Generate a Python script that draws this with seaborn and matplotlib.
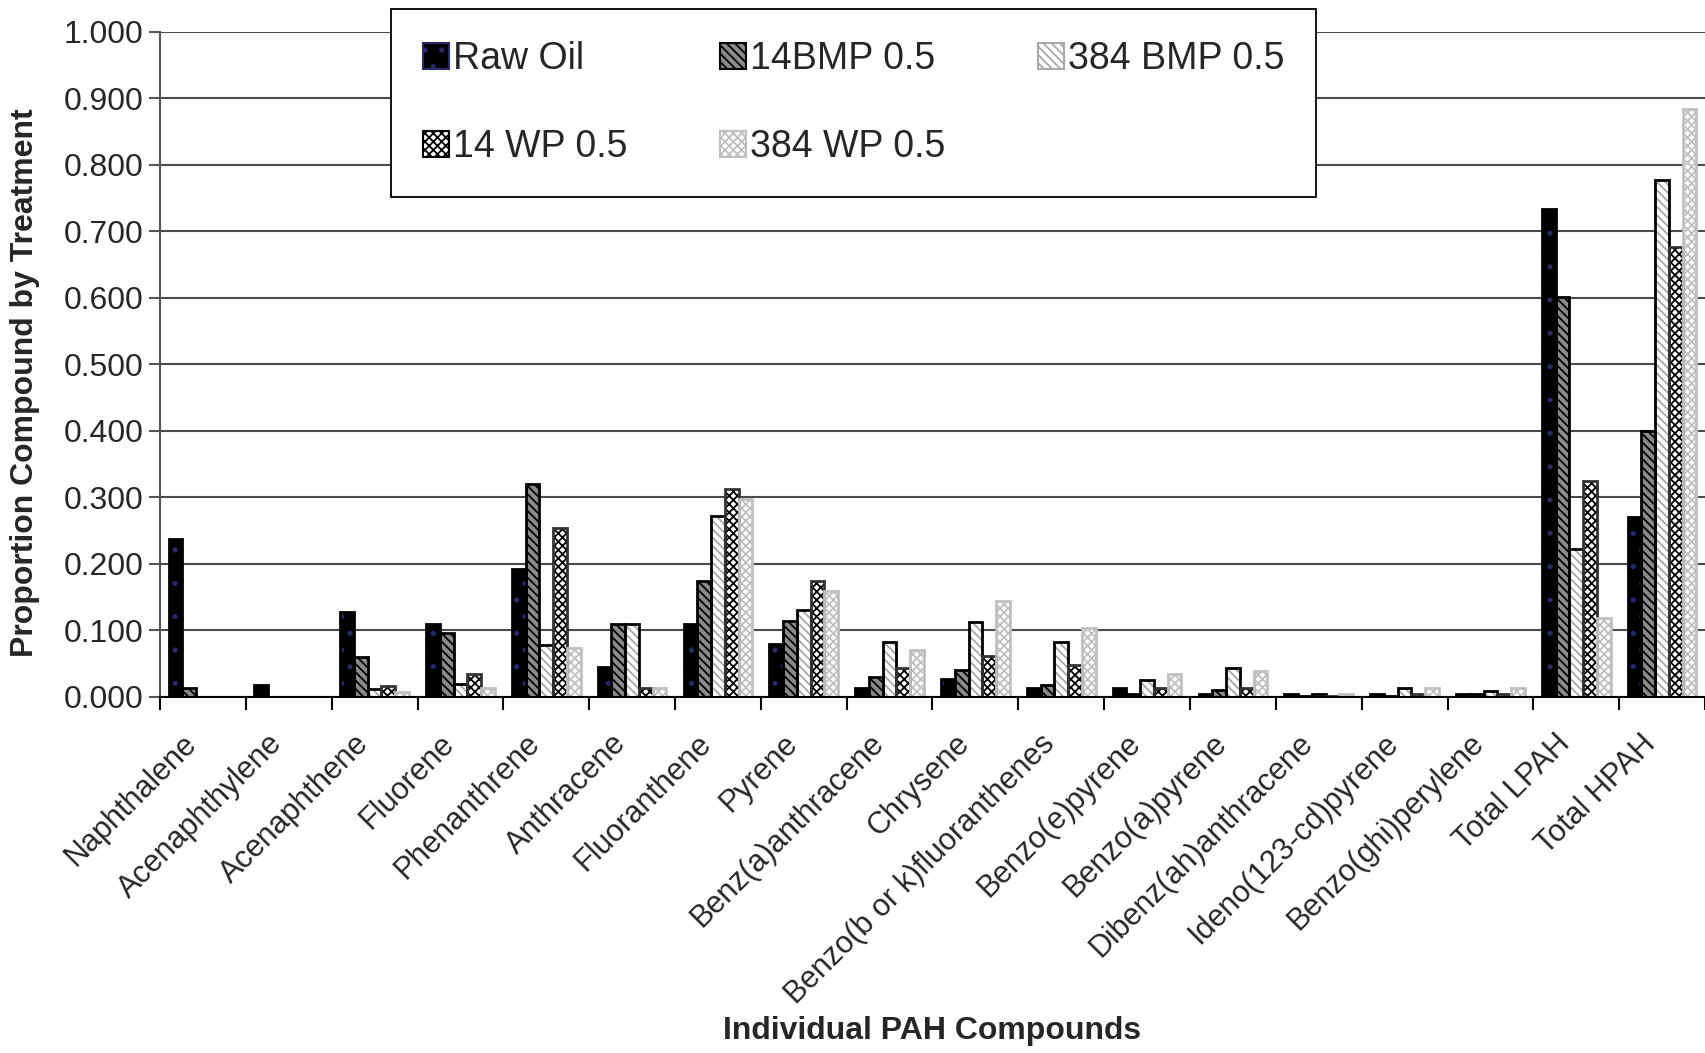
import numpy as np
import pandas as pd
import matplotlib
matplotlib.use("Agg")
import matplotlib.pyplot as plt
import seaborn as sns
from matplotlib.patches import Rectangle, Patch
from matplotlib.ticker import FormatStrFormatter

compounds = ["Naphthalene", "Acenaphthylene", "Acenaphthene", "Fluorene", "Phenanthrene",
             "Anthracene", "Fluoranthene", "Pyrene", "Benz(a)anthracene", "Chrysene",
             "Benzo(b or k)fluoranthenes", "Benzo(e)pyrene", "Benzo(a)pyrene",
             "Dibenz(ah)anthracene", "Ideno(123-cd)pyrene", "Benzo(ghi)perylene",
             "Total LPAH", "Total HPAH"]
treatments = ["Raw Oil", "14BMP 0.5", "384 BMP 0.5", "14 WP 0.5", "384 WP 0.5"]

raw_oil = [0.237, 0.018, 0.128, 0.110, 0.193, 0.045, 0.110, 0.080, 0.014, 0.027,
           0.014, 0.014, 0.005, 0.005, 0.004, 0.004, 0.733, 0.270]
bmp14 = [0.013, 0.000, 0.060, 0.096, 0.320, 0.110, 0.175, 0.114, 0.030, 0.040,
         0.018, 0.005, 0.010, 0.001, 0.002, 0.004, 0.601, 0.400]
bmp384 = [0.000, 0.000, 0.012, 0.020, 0.078, 0.110, 0.272, 0.130, 0.083, 0.113,
          0.083, 0.026, 0.044, 0.005, 0.013, 0.009, 0.222, 0.777]
wp14 = [0.000, 0.000, 0.017, 0.035, 0.254, 0.013, 0.312, 0.174, 0.044, 0.061,
        0.048, 0.014, 0.014, 0.001, 0.004, 0.004, 0.325, 0.676]
wp384 = [0.000, 0.000, 0.008, 0.013, 0.074, 0.013, 0.298, 0.160, 0.070, 0.144,
         0.104, 0.035, 0.039, 0.004, 0.013, 0.013, 0.118, 0.883]

y_ticks = [0.0, 0.1, 0.2, 0.3, 0.4, 0.5, 0.6, 0.7, 0.8, 0.9, 1.0]

# style per series: face, hatch, hatch colour, outline colour
styles = [
    ("#000000", ".", "#2a2a6a", "#000000"),
    ("#8a8a8a", "\\\\\\\\", "#000000", "#000000"),
    ("#ffffff", "\\\\\\\\", "#a8a8a8", "#000000"),
    ("#ffffff", "xxxx", "#000000", "#333333"),
    ("#ffffff", "xxxx", "#c0c0c0", "#c0c0c0"),
]

sns.set_theme(style="white")
plt.rcParams["font.family"] = ["Liberation Sans", "DejaVu Sans"]
plt.rcParams["hatch.linewidth"] = 1.3

df = pd.DataFrame({
    "Compound": compounds * 5,
    "Treatment": np.repeat(treatments, len(compounds)),
    "Proportion": raw_oil + bmp14 + bmp384 + wp14 + wp384,
})

W, H = 1705, 1053
fig = plt.figure(figsize=(W / 100, H / 100), dpi=100)
ax = fig.add_axes([160 / W, 1 - 697 / H, 1 - 160 / W, (697 - 31.5) / H])

sns.barplot(data=df, x="Compound", y="Proportion", hue="Treatment", order=compounds,
            hue_order=treatments, width=0.8, ax=ax, legend=False, errorbar=None)

for cont, (face, hatch, hcol, ecol) in zip(ax.containers, styles):
    for bar in cont:
        bar.set_facecolor(face)
        bar.set_hatch(hatch)
        bar.set_edgecolor(hcol)
        bar.set_linewidth(0)
        h = bar.get_height()
        if h > 0:
            ax.add_patch(Rectangle((bar.get_x(), bar.get_y()), bar.get_width(), h,
                                   fill=False, edgecolor=ecol, linewidth=2.0,
                                   zorder=bar.get_zorder() + 0.1))

ax.set_ylim(0, 1.0)
ax.set_xlim(-0.5, len(compounds) - 0.5)
ax.set_yticks(y_ticks)
ax.yaxis.set_major_formatter(FormatStrFormatter("%.3f"))
ax.set_axisbelow(True)
ax.yaxis.grid(True, color="#4a4a4a", linewidth=1.5)
ax.xaxis.grid(False)

for s in ["top", "right"]:
    ax.spines[s].set_visible(False)
ax.spines["left"].set_color("#555555")
ax.spines["left"].set_linewidth(1.5)
ax.spines["bottom"].set_color("#000000")
ax.spines["bottom"].set_linewidth(1.5)

ax.set_xticks(range(len(compounds)))
ax.set_xticklabels(compounds, rotation=45, ha="right", va="bottom", rotation_mode="anchor",
                   fontsize=22)
ax.tick_params(axis="x", which="major", length=0, pad=38)
ax.set_xticks(np.arange(-0.5, len(compounds), 1), minor=True)
ax.tick_params(axis="x", which="minor", length=9, width=1.5, color="black", direction="out",
               bottom=True)
ax.tick_params(axis="y", which="major", length=8, width=1.5, color="#555555", direction="out",
               left=True, labelsize=23, pad=4)

ax.set_xlabel("")
fig.text(932 / W, 1 - 1031 / H, "Individual PAH Compounds", fontsize=23, fontweight="bold",
         ha="center", va="center")
ax.set_ylabel("Proportion Compound by Treatment", fontsize=23, fontweight="bold")
ax.yaxis.set_label_coords(40 / W, 1 - 383 / H, transform=fig.transFigure)

# matplotlib fills legend columns first; order so rows read like the reference
order = [0, 3, 1, 4, 2]
handles = [Patch(facecolor=styles[i][0], hatch=styles[i][1], edgecolor=styles[i][2],
                 linewidth=1.5) for i in order]
labels = [treatments[i] for i in order]
leg = ax.legend(handles, labels, ncol=3, loc="upper left", mode="expand",
                bbox_to_anchor=(391 / W, 0.0, 925 / W, 1 - 9 / H), bbox_transform=fig.transFigure,
                fontsize=27, frameon=True, fancybox=False, framealpha=1, edgecolor="black",
                borderpad=0.85, labelspacing=1.4, handlelength=0.7, handleheight=0.7,
                handletextpad=0.1, borderaxespad=0)
leg.get_frame().set_linewidth(1.3)

fig.savefig("out.png", dpi=100)
